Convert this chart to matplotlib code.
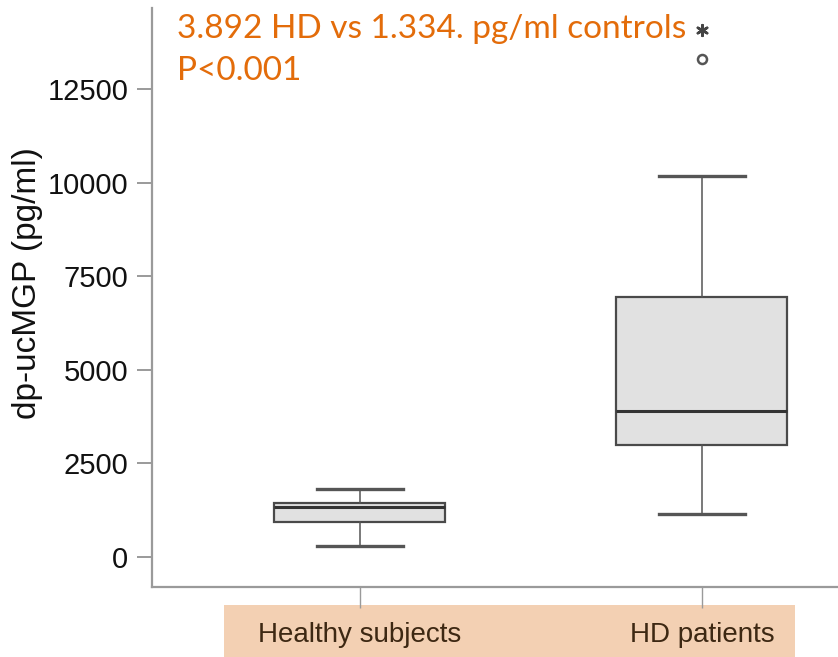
import matplotlib
matplotlib.use("Agg")
import matplotlib.pyplot as plt
from matplotlib.patches import Rectangle

# box statistics (pg/ml)
groups = ["Healthy subjects", "HD patients"]
whisker_low = [293, 1147]
quart1 = [934, 2988]
medians = [1334, 3892]
quart3 = [1450, 6937]
whisker_high = [1814, 10173]
outliers = [[], [13314]]
extreme_outliers = [[], [14087]]

yticks = [0, 2500, 5000, 7500, 10000, 12500]

plt.rcParams['font.family'] = ['Liberation Sans', 'DejaVu Sans']

fig = plt.figure(figsize=(8.38, 6.57), dpi=100)
ax = fig.add_axes([0.1814, 0.1065, 0.8186, 0.8813])

stats = []
for i, name in enumerate(groups):
    stats.append(dict(label=name, whislo=whisker_low[i], q1=quart1[i], med=medians[i],
                      q3=quart3[i], whishi=whisker_high[i], fliers=outliers[i]))

positions = list(range(1, len(groups) + 1))
ax.bxp(stats, positions=positions, widths=0.5, capwidths=0.25, patch_artist=True,
       boxprops=dict(facecolor='#e1e1e1', edgecolor='#4a4a4a', linewidth=1.6),
       medianprops=dict(color='#333333', linewidth=2.2),
       whiskerprops=dict(color='#555555', linewidth=1.1),
       capprops=dict(color='#555555', linewidth=2.4),
       flierprops=dict(marker='o', markersize=6.5, markerfacecolor='none',
                       markeredgecolor='#555555', markeredgewidth=1.8))

for pos, vals in zip(positions, extreme_outliers):
    if vals:
        ax.scatter([pos] * len(vals), vals, marker=(6, 2, 0), s=60,
                   color='#444444', linewidths=1.8, zorder=3)

ax.set_xlim(0.392, 2.398)
ax.set_ylim(-801, 14663)
ax.set_yticks(yticks)
ax.set_yticklabels([str(v) for v in yticks], fontsize=21, color='#111111')
ax.set_xticks(positions)
ax.set_xticklabels(groups, fontsize=20, color='#3d2813')

for side in ['top', 'right']:
    ax.spines[side].set_visible(False)
for side in ['left', 'bottom']:
    ax.spines[side].set_color('#9a9a9a')
    ax.spines[side].set_linewidth(1.6)
ax.tick_params(axis='y', length=11, width=1.4, color='#9a9a9a', pad=6)
ax.tick_params(axis='x', length=15, width=1.0, color='#9a9a9a', pad=10)

fig.text(28 / 838, (657 - 283) / 657, "dp-ucMGP (pg/ml)", rotation=90, ha='center', va='center',
         fontsize=24, color='#111111')

# peach band behind category labels
fig.patches.append(Rectangle((224 / 838, 0), (795 - 224) / 838, 52 / 657,
                             transform=fig.transFigure, facecolor='#f3d0b3',
                             edgecolor='none', zorder=-1))

orange = '#e36c0a'
fig.text(177 / 838, (657 - 38) / 657, "3.892 HD vs 1.334. pg/ml controls", ha='left',
         va='baseline', fontsize=24, color=orange, family=['Lato', 'DejaVu Sans'])
fig.text(177 / 838, (657 - 80) / 657, "P<0.001", ha='left', va='baseline',
         fontsize=24, color=orange, family=['Lato', 'DejaVu Sans'])

fig.savefig("out.png", dpi=100)
